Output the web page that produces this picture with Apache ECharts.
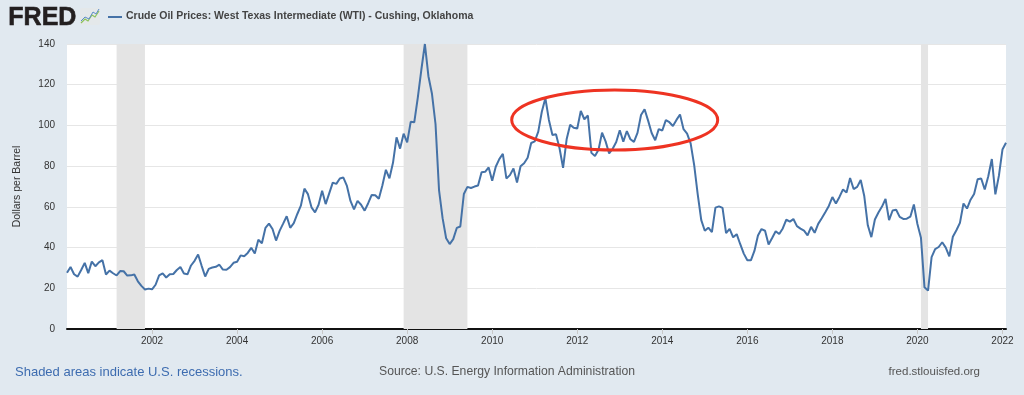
<!DOCTYPE html>
<html><head><meta charset="utf-8">
<script src="https://cdn.jsdelivr.net/npm/echarts@6/dist/echarts.min.js"></script>
<style>html,body{margin:0;padding:0;background:#e1e9f0}#c{width:1024px;height:395px}</style>
</head><body><div id="c"></div>
<script>
// Monthly WTI price (end of month), Dollars per Barrel, starting Jan 2000
const startYear = 2000;
const wti = [
  27.64, 30.43, 26.90, 25.74, 29.01, 32.50, 27.43, 33.12, 30.84, 32.70, 33.82, 26.80, // 2000
  28.66, 27.39, 26.29, 28.46, 28.37, 26.25, 26.35, 26.78, 23.43, 21.18, 19.44, 19.84, // 2001
  19.48, 21.74, 26.31, 27.29, 25.31, 26.86, 27.02, 28.98, 30.45, 27.22, 26.89, 31.20, // 2002
  33.51, 36.60, 31.04, 25.80, 29.56, 30.19, 30.54, 31.57, 29.20, 29.11, 30.41, 32.52, // 2003
  33.05, 36.16, 35.76, 37.38, 39.88, 37.05, 43.80, 42.12, 49.64, 51.76, 49.13, 43.45, // 2004
  48.20, 51.75, 55.40, 49.72, 51.97, 56.50, 60.57, 68.94, 66.24, 59.76, 57.32, 61.04, // 2005
  67.86, 61.37, 66.63, 71.88, 71.29, 73.93, 74.40, 70.26, 62.90, 58.73, 62.97, 61.05, // 2006
  58.14, 61.79, 65.87, 65.71, 64.01, 70.47, 78.20, 74.04, 81.64, 94.16, 88.60, 95.95, // 2007
  91.67, 101.78, 101.54, 113.70, 127.35, 140.00, 124.17, 115.55, 100.70, 68.10, 54.43, 44.60, // 2008
  41.73, 44.15, 49.64, 50.35, 66.31, 69.82, 69.26, 69.97, 70.46, 77.04, 77.19, 79.39, // 2009
  72.85, 79.72, 83.45, 86.07, 73.97, 75.59, 78.85, 71.93, 79.95, 81.45, 84.12, 91.38, // 2010
  92.19, 96.97, 106.72, 113.39, 102.70, 95.30, 95.68, 88.81, 79.20, 93.19, 100.36, 98.83, // 2011
  98.48, 107.08, 103.03, 104.89, 86.52, 84.96, 88.06, 96.47, 92.18, 86.23, 88.54, 91.83, // 2012
  97.65, 92.03, 97.24, 93.22, 91.93, 96.36, 105.10, 107.98, 102.36, 96.29, 92.72, 98.17, // 2013
  97.49, 102.59, 101.58, 99.74, 102.71, 105.37, 98.17, 95.96, 91.16, 80.54, 66.15, 53.45, // 2014
  48.24, 49.76, 47.60, 59.62, 60.25, 59.48, 47.11, 49.20, 45.06, 46.60, 41.65, 37.04, // 2015
  33.74, 33.75, 38.34, 45.92, 49.10, 48.27, 41.54, 44.68, 48.05, 46.67, 49.41, 53.75, // 2016
  52.75, 54.00, 50.54, 49.33, 48.32, 46.02, 50.17, 47.26, 51.64, 54.38, 57.36, 60.46, // 2017
  64.82, 61.64, 64.87, 68.58, 67.04, 74.15, 68.76, 69.80, 73.16, 65.31, 50.93, 45.15, // 2018
  53.79, 57.22, 60.14, 63.86, 53.49, 58.20, 58.55, 55.06, 54.09, 54.18, 55.17, 61.14, // 2019
  51.58, 44.83, 20.48, 18.84, 35.32, 39.27, 40.28, 42.61, 39.97, 35.64, 45.34, 48.52, // 2020
  52.14, 61.66, 59.19, 63.50, 66.31, 73.52, 73.95, 68.50, 75.03, 83.50, 66.18, 75.33, // 2021
  88.15, 91.50 // 2022
];
const xTickYears = [2002, 2004, 2006, 2008, 2010, 2012, 2014, 2016, 2018, 2020, 2022];
const yTicks = [0, 20, 40, 60, 80, 100, 120, 140];
const recessions = [['2001-03', '2001-11'], ['2007-12', '2009-06'], ['2020-02', '2020-04']];

function toX(ym) { const p = ym.split('-'); return +p[0] + (+p[1] - 1) / 12; }
const months = wti.map((v, i) => {
  const y = startYear + Math.floor(i / 12), m = i % 12 + 1;
  return y + '-' + (m < 10 ? '0' + m : m);
});
const seriesData = months.map((m, i) => [toX(m), wti[i]]);
const FONT = "'Liberation Sans', Arial, Helvetica, sans-serif";

const chart = echarts.init(document.getElementById('c'), null, { renderer: 'canvas' });
chart.setOption({
  backgroundColor: '#e1e9f0',
  animation: false,
  textStyle: { fontFamily: FONT },
  grid: { left: 67, right: 18, top: 44, bottom: 66, show: true, backgroundColor: '#ffffff', borderWidth: 0 },
  xAxis: {
    type: 'value',
    min: toX(months[0]),
    max: toX(months[months.length - 1]),
    splitLine: { show: false },
    axisLine: { lineStyle: { color: '#111', width: 2 } },
    axisTick: { show: true, length: 5, lineStyle: { color: '#c8c8c8' }, customValues: xTickYears },
    axisLabel: { customValues: xTickYears, color: '#333', fontSize: 10, margin: 7, fontFamily: FONT, formatter: v => String(Math.round(v)) }
  },
  yAxis: {
    type: 'value', min: yTicks[0], max: yTicks[yTicks.length - 1], interval: 20,
    name: 'Dollars per Barrel', nameLocation: 'middle', nameGap: 44,
    nameTextStyle: { color: '#333', fontSize: 10.5, fontFamily: FONT },
    axisLine: { show: false }, axisTick: { show: false },
    axisLabel: { color: '#333', fontSize: 10, margin: 12, fontFamily: FONT },
    splitLine: { lineStyle: { color: '#e6e6e6', width: 1 } }
  },
  series: [
    {
      type: 'line', data: [], z: 1, silent: true,
      markArea: { silent: true, itemStyle: { color: '#e4e4e4' },
        data: recessions.map(r => [{ xAxis: toX(r[0]) }, { xAxis: toX(r[1]) }]) }
    },
    {
      type: 'line', name: 'WTI', data: seriesData, z: 3, symbol: 'none', showSymbol: false,
      lineStyle: { color: '#4572a7', width: 2 }, itemStyle: { color: '#4572a7' }
    }
  ],
  graphic: [
    { type: 'text', left: 8, top: 5, style: { text: 'FRED', font: "bold 25px " + FONT, fill: '#231f20', stroke: '#231f20', lineWidth: 0.6 } },
    { type: 'rect', shape: { x: 80, y: 8, width: 20, height: 17, r: 2 }, style: { fill: '#e4e8ea' } },
    { type: 'polyline', shape: { points: [[81, 23], [85, 19], [88, 21], [92, 15], [95, 17], [99, 11]] }, style: { stroke: '#8cc25a', lineWidth: 1.2, fill: null } },
    { type: 'polyline', shape: { points: [[81, 21], [85, 17], [89, 19], [93, 12], [96, 14], [99, 9]] }, style: { stroke: '#5b8cc8', lineWidth: 1, fill: null } },
    { type: 'line', shape: { x1: 108, y1: 17, x2: 122, y2: 17 }, style: { stroke: '#4572a7', lineWidth: 2 } },
    { type: 'text', left: 126, top: 11, style: { text: 'Crude Oil Prices: West Texas Intermediate (WTI) - Cushing, Oklahoma', font: "bold 10.5px " + FONT, fill: '#444' } },
    { type: 'text', left: 15, top: 366, style: { text: 'Shaded areas indicate U.S. recessions.', font: "13px " + FONT, fill: '#3d6cb0' } },
    { type: 'text', left: 379, top: 366, style: { text: 'Source: U.S. Energy Information Administration', font: "12.2px " + FONT, fill: '#555' } },
    { type: 'text', right: 44, top: 366, style: { text: 'fred.stlouisfed.org', font: "11.5px " + FONT, fill: '#555' } },
    { type: 'ellipse', shape: { cx: 614.7, cy: 120, rx: 103, ry: 30 }, style: { stroke: '#ee3322', lineWidth: 3, fill: null }, z: 100 }
  ]
});
</script></body></html>
